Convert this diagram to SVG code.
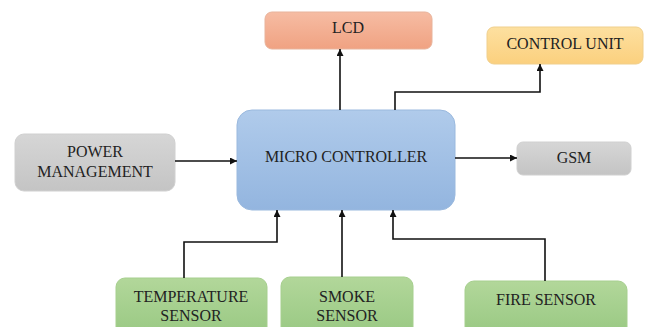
<svg xmlns="http://www.w3.org/2000/svg" width="648" height="327" viewBox="0 0 648 327">
<defs>
<linearGradient id="gLcd" x1="0" y1="0" x2="0" y2="1"><stop offset="0" stop-color="#f6bca3"/><stop offset="1" stop-color="#f0a282"/></linearGradient>
<linearGradient id="gCu" x1="0" y1="0" x2="0" y2="1"><stop offset="0" stop-color="#fde0a0"/><stop offset="1" stop-color="#fbd07e"/></linearGradient>
<linearGradient id="gGray" x1="0" y1="0" x2="0" y2="1"><stop offset="0" stop-color="#d6d6d6"/><stop offset="1" stop-color="#c4c4c4"/></linearGradient>
<linearGradient id="gMc" x1="0" y1="0" x2="0" y2="1"><stop offset="0" stop-color="#b0cbeb"/><stop offset="1" stop-color="#93b5df"/></linearGradient>
<linearGradient id="gGreen" x1="0" y1="0" x2="0" y2="1"><stop offset="0" stop-color="#b2d79a"/><stop offset="1" stop-color="#98c882"/></linearGradient>
<marker id="arr" viewBox="0 0 10 10" refX="10" refY="5" markerWidth="7" markerHeight="7" markerUnits="userSpaceOnUse" orient="auto"><path d="M0,0 L10,5 L0,10 z" fill="#111"/></marker>
</defs>
<style>
text{font-family:"Liberation Serif","Times New Roman",serif;font-size:16px;fill:#222;text-anchor:middle}
.c{fill:none;stroke:#111;stroke-width:1.6}
.box{stroke-width:1}
</style>
<rect width="648" height="327" fill="#ffffff"/>
<g id="lcd"><rect class="box" x="265" y="12" width="167" height="37" rx="7" fill="url(#gLcd)" stroke="#e8b39b"/><text x="348" y="33">LCD</text></g>
<g id="control-unit"><rect class="box" x="487" y="27" width="156" height="37" rx="7" fill="url(#gCu)" stroke="#f0cf8c"/><text x="565" y="49">CONTROL UNIT</text></g>
<g id="power-management"><rect class="box" x="15" y="134" width="160" height="57" rx="9" fill="url(#gGray)" stroke="#d0d0d0"/><text x="95" y="157">POWER</text><text x="95" y="177">MANAGEMENT</text></g>
<g id="micro-controller"><rect class="box" x="237" y="110" width="218" height="100" rx="15" fill="url(#gMc)" stroke="#9ab9de"/><text x="346" y="162">MICRO CONTROLLER</text></g>
<g id="gsm"><rect class="box" x="517" y="142" width="114" height="33" rx="6" fill="url(#gGray)" stroke="#d0d0d0"/><text x="574" y="163">GSM</text></g>
<g id="temperature-sensor"><rect class="box" x="116" y="278" width="151" height="60" rx="9" fill="url(#gGreen)" stroke="#a6cf8e"/><text x="191" y="302">TEMPERATURE</text><text x="191" y="321">SENSOR</text></g>
<g id="smoke-sensor"><rect class="box" x="281" y="277" width="132" height="60" rx="9" fill="url(#gGreen)" stroke="#a6cf8e"/><text x="347" y="302">SMOKE</text><text x="347" y="321">SENSOR</text></g>
<g id="fire-sensor"><rect class="box" x="465" y="281" width="162" height="55" rx="9" fill="url(#gGreen)" stroke="#a6cf8e"/><text x="546" y="305">FIRE SENSOR</text></g>
<g id="connectors">
<path class="c" d="M340,110 V49" marker-end="url(#arr)"/>
<path class="c" d="M395,110 V92 H540 V64" marker-end="url(#arr)"/>
<path class="c" d="M175,161 H237" marker-end="url(#arr)"/>
<path class="c" d="M455,158 H517" marker-end="url(#arr)"/>
<path class="c" d="M184,278 V242 H277 V210" marker-end="url(#arr)"/>
<path class="c" d="M342,277 V210" marker-end="url(#arr)"/>
<path class="c" d="M545,281 V239 H393 V210" marker-end="url(#arr)"/>
</g>
</svg>
